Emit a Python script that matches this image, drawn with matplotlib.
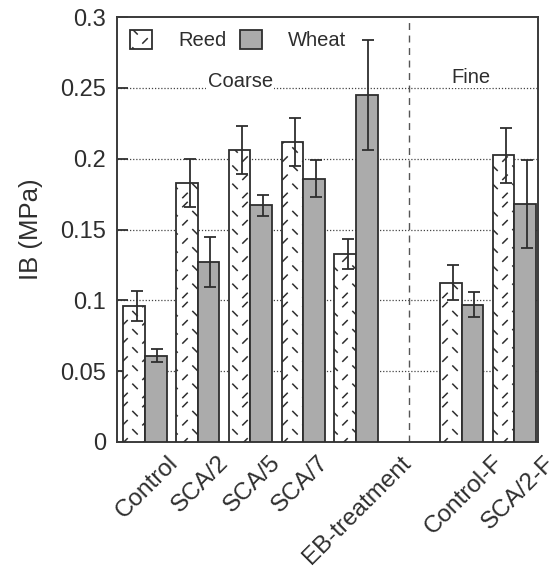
import numpy as np
import matplotlib
matplotlib.use("Agg")
import matplotlib.pyplot as plt
import matplotlib.transforms as mtransforms
from matplotlib import hatch as mhatch
from matplotlib.hatch import HatchPatternBase
from matplotlib.path import Path
import warnings
warnings.filterwarnings("ignore")

# ---------------- data ----------------
categories = ["Control", "SCA/2", "SCA/5", "SCA/7", "EB-treatment", "Control-F", "SCA/2-F"]
reed = [0.096, 0.183, 0.206, 0.212, 0.133, 0.1125, 0.2025]
reed_err = [0.0105, 0.017, 0.017, 0.017, 0.0106, 0.0125, 0.0195]
wheat = [0.061, 0.127, 0.167, 0.186, 0.245, 0.097, 0.168]
wheat_err = [0.0045, 0.0175, 0.0075, 0.013, 0.039, 0.009, 0.031]
series_names = ["Reed", "Wheat"]
group_names = ["Coarse", "Fine"]
yticks = [0, 0.05, 0.1, 0.15, 0.2, 0.25, 0.3]
ytick_labels = ["0", "0.05", "0.1", "0.15", "0.2", "0.25", "0.3"]

# layout positions (not data)
xpos = np.array([0, 1, 2, 3, 4, 6, 7], dtype=float)
label_offsets = np.array([0.72, 0.67, 0.66, 0.57, 1.13, 0.88, 0.85])
divider_x = 5
width = 0.41

# ---------------- custom dash hatch ----------------
class DashHatch(HatchPatternBase):
    def __init__(self, hatch, density):
        self.rows = 11 if 'd' in hatch else 0
        self.cols = 5
        self.num_vertices = self.rows * self.cols * 2

    def set_vertices_and_codes(self, vertices, codes):
        d = 0.022
        k = 0
        for i in range(self.rows):
            cy = (i + 0.5) / self.rows
            for j in range(self.cols):
                cx = (j + 0.25 + 0.5 * (i % 2)) / self.cols
                if i % 2 == 0:
                    vertices[k] = (cx - d, cy - d)
                    vertices[k + 1] = (cx + d, cy + d)
                else:
                    vertices[k] = (cx - d, cy + d)
                    vertices[k + 1] = (cx + d, cy - d)
                codes[k] = Path.MOVETO
                codes[k + 1] = Path.LINETO
                k += 2

mhatch._hatch_types.append(DashHatch)

plt.rcParams['font.family'] = ['Liberation Sans', 'DejaVu Sans']
plt.rcParams['hatch.linewidth'] = 1.1

ink = '#2e2e2e'
fig = plt.figure(figsize=(5.58, 5.72), dpi=100)
ax = fig.add_axes([117/558, 1 - 442/572, (538-117)/558, (442-17)/572])

ax.bar(xpos - width/2, reed, width, facecolor='white', edgecolor=ink,
       linewidth=1.3, hatch='d', label=series_names[0], zorder=3)
ax.bar(xpos + width/2, wheat, width, facecolor='#ababab', edgecolor=ink,
       linewidth=1.3, label=series_names[1], zorder=3)
ax.errorbar(xpos - width/2 + 0.05, reed, yerr=reed_err, fmt='none', ecolor=ink,
            elinewidth=1.3, capsize=4.5, capthick=1.3, zorder=4)
ax.errorbar(xpos + width/2 + 0.03, wheat, yerr=wheat_err, fmt='none', ecolor=ink,
            elinewidth=1.3, capsize=4.5, capthick=1.3, zorder=4)

ax.set_xticks([])
ax.set_xlim(-0.53, 7.45)
ax.set_ylim(0, 0.3)
ax.set_yticks(yticks)
ax.set_yticklabels(ytick_labels)
for y in yticks[1:-1]:
    ax.axhline(y, color='#444444', linestyle=(0, (1, 1.5)), linewidth=0.9, zorder=1)
ax.axvline(divider_x, color='#555555', linestyle=(0, (5, 4)), linewidth=1.0, zorder=1)

# category labels (rotated, drawn as text so the last one may extend past the axes)
trans = mtransforms.blended_transform_factory(ax.transData, ax.transAxes) + \
    mtransforms.ScaledTranslation(0, -7 / 72, fig.dpi_scale_trans)
for x, off, lab in zip(xpos, label_offsets, categories):
    ax.text(x + off, 0, lab, transform=trans, rotation=45, ha='right', va='top',
            fontsize=17.5, color=ink, clip_on=False)

ax.tick_params(axis='y', direction='in', length=8, width=1.3, labelsize=17,
               colors=ink, pad=8, right=False)
for s in ax.spines.values():
    s.set_linewidth(1.4)
    s.set_color('#3a3a3a')

ax.set_ylabel("IB (MPa)", fontsize=18.5, color=ink, labelpad=12)

ax.text(1.81, 0.2545, group_names[0], ha='center', va='center', fontsize=14.5,
        color=ink, bbox=dict(facecolor='white', edgecolor='none', pad=1), zorder=2)
ax.text(6.18, 0.2575, group_names[1], ha='center', va='center', fontsize=14.5,
        color=ink, bbox=dict(facecolor='white', edgecolor='none', pad=1), zorder=2)

leg = ax.legend(loc='upper left', bbox_to_anchor=(0.031, 0.969), ncol=2,
                frameon=False, fontsize=14.5, borderpad=0, borderaxespad=0,
                handlelength=1.1, handleheight=1.05, handletextpad=1.3,
                columnspacing=0.65)
for t in leg.get_texts():
    t.set_color(ink)

fig.savefig("out.png", dpi=100, facecolor='white')
